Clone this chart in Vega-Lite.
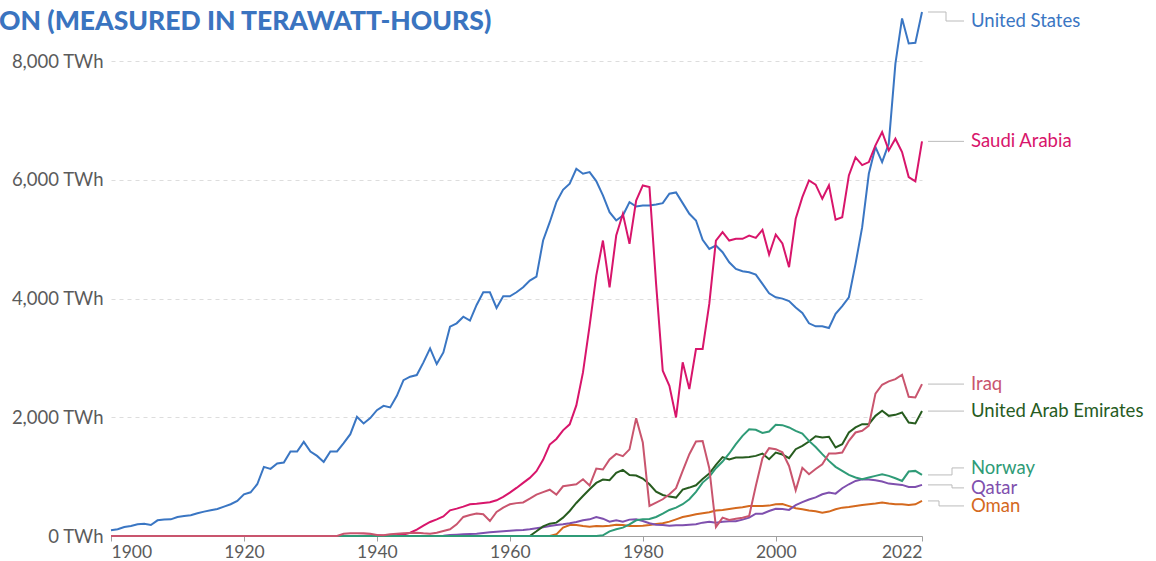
{
"$schema": "https://vega.github.io/schema/vega-lite/v6.json",
"width": 811, "height": 524,
"autosize": {"type": "none"},
"padding": {"left": 111, "top": 12, "right": 234, "bottom": 25},
"background": "white",
"config": {"view": {"stroke": null}, "font": "Lato"},
"title": {"text": "ON (MEASURED IN TERAWATT-HOURS)", "anchor": "start", "frame": "group", "dx": -112, "dy": 28, "offset": -20, "baseline": "alphabetic", "font": "Lato", "fontSize": 26.5, "fontWeight": 900, "color": "#3a74c0"},
"data": {"values": [
{"country":"United States","year":1900,"twh":96},{"country":"United States","year":1901,"twh":113},{"country":"United States","year":1902,"twh":152},{"country":"United States","year":1903,"twh":169},{"country":"United States","year":1904,"twh":197},{"country":"United States","year":1905,"twh":208},{"country":"United States","year":1906,"twh":186},{"country":"United States","year":1907,"twh":264},{"country":"United States","year":1908,"twh":276},{"country":"United States","year":1909,"twh":281},{"country":"United States","year":1910,"twh":321},{"country":"United States","year":1911,"twh":338},{"country":"United States","year":1912,"twh":349},{"country":"United States","year":1913,"twh":382},{"country":"United States","year":1914,"twh":411},{"country":"United States","year":1915,"twh":433},{"country":"United States","year":1916,"twh":456},{"country":"United States","year":1917,"twh":495},{"country":"United States","year":1918,"twh":535},{"country":"United States","year":1919,"twh":591},{"country":"United States","year":1920,"twh":703},{"country":"United States","year":1921,"twh":737},{"country":"United States","year":1922,"twh":872},{"country":"United States","year":1923,"twh":1165},{"country":"United States","year":1924,"twh":1131},{"country":"United States","year":1925,"twh":1221},{"country":"United States","year":1926,"twh":1238},{"country":"United States","year":1927,"twh":1424},{"country":"United States","year":1928,"twh":1424},{"country":"United States","year":1929,"twh":1587},{"country":"United States","year":1930,"twh":1424},{"country":"United States","year":1931,"twh":1350},{"country":"United States","year":1932,"twh":1249},{"country":"United States","year":1933,"twh":1424},{"country":"United States","year":1934,"twh":1424},{"country":"United States","year":1935,"twh":1564},{"country":"United States","year":1936,"twh":1716},{"country":"United States","year":1937,"twh":2008},{"country":"United States","year":1938,"twh":1896},{"country":"United States","year":1939,"twh":1986},{"country":"United States","year":1940,"twh":2121},{"country":"United States","year":1941,"twh":2194},{"country":"United States","year":1942,"twh":2166},{"country":"United States","year":1943,"twh":2363},{"country":"United States","year":1944,"twh":2627},{"country":"United States","year":1945,"twh":2684},{"country":"United States","year":1946,"twh":2712},{"country":"United States","year":1947,"twh":2926},{"country":"United States","year":1948,"twh":3162},{"country":"United States","year":1949,"twh":2897},{"country":"United States","year":1950,"twh":3094},{"country":"United States","year":1951,"twh":3528},{"country":"United States","year":1952,"twh":3584},{"country":"United States","year":1953,"twh":3696},{"country":"United States","year":1954,"twh":3629},{"country":"United States","year":1955,"twh":3893},{"country":"United States","year":1956,"twh":4107},{"country":"United States","year":1957,"twh":4107},{"country":"United States","year":1958,"twh":3843},{"country":"United States","year":1959,"twh":4039},{"country":"United States","year":1960,"twh":4039},{"country":"United States","year":1961,"twh":4107},{"country":"United States","year":1962,"twh":4191},{"country":"United States","year":1963,"twh":4304},{"country":"United States","year":1964,"twh":4371},{"country":"United States","year":1965,"twh":4979},{"country":"United States","year":1966,"twh":5288},{"country":"United States","year":1967,"twh":5626},{"country":"United States","year":1968,"twh":5834},{"country":"United States","year":1969,"twh":5936},{"country":"United States","year":1970,"twh":6189},{"country":"United States","year":1971,"twh":6104},{"country":"United States","year":1972,"twh":6132},{"country":"United States","year":1973,"twh":5981},{"country":"United States","year":1974,"twh":5739},{"country":"United States","year":1975,"twh":5457},{"country":"United States","year":1976,"twh":5317},{"country":"United States","year":1977,"twh":5401},{"country":"United States","year":1978,"twh":5626},{"country":"United States","year":1979,"twh":5553},{"country":"United States","year":1980,"twh":5570},{"country":"United States","year":1981,"twh":5570},{"country":"United States","year":1982,"twh":5587},{"country":"United States","year":1983,"twh":5609},{"country":"United States","year":1984,"twh":5767},{"country":"United States","year":1985,"twh":5789},{"country":"United States","year":1986,"twh":5609},{"country":"United States","year":1987,"twh":5429},{"country":"United States","year":1988,"twh":5317},{"country":"United States","year":1989,"twh":4990},{"country":"United States","year":1990,"twh":4838},{"country":"United States","year":1991,"twh":4895},{"country":"United States","year":1992,"twh":4782},{"country":"United States","year":1993,"twh":4613},{"country":"United States","year":1994,"twh":4501},{"country":"United States","year":1995,"twh":4461},{"country":"United States","year":1996,"twh":4445},{"country":"United States","year":1997,"twh":4405},{"country":"United States","year":1998,"twh":4248},{"country":"United States","year":1999,"twh":4090},{"country":"United States","year":2000,"twh":4023},{"country":"United States","year":2001,"twh":4000},{"country":"United States","year":2002,"twh":3960},{"country":"United States","year":2003,"twh":3850},{"country":"United States","year":2004,"twh":3760},{"country":"United States","year":2005,"twh":3584},{"country":"United States","year":2006,"twh":3533},{"country":"United States","year":2007,"twh":3536},{"country":"United States","year":2008,"twh":3505},{"country":"United States","year":2009,"twh":3745},{"country":"United States","year":2010,"twh":3875},{"country":"United States","year":2011,"twh":4023},{"country":"United States","year":2012,"twh":4585},{"country":"United States","year":2013,"twh":5204},{"country":"United States","year":2014,"twh":6104},{"country":"United States","year":2015,"twh":6554},{"country":"United States","year":2016,"twh":6301},{"country":"United States","year":2017,"twh":6611},{"country":"United States","year":2018,"twh":7961},{"country":"United States","year":2019,"twh":8721},{"country":"United States","year":2020,"twh":8299},{"country":"United States","year":2021,"twh":8310},{"country":"United States","year":2022,"twh":8830},
{"country":"Saudi Arabia","year":1900,"twh":0},{"country":"Saudi Arabia","year":1937,"twh":0},{"country":"Saudi Arabia","year":1938,"twh":5},{"country":"Saudi Arabia","year":1939,"twh":10},{"country":"Saudi Arabia","year":1940,"twh":12},{"country":"Saudi Arabia","year":1941,"twh":10},{"country":"Saudi Arabia","year":1942,"twh":10},{"country":"Saudi Arabia","year":1943,"twh":15},{"country":"Saudi Arabia","year":1944,"twh":25},{"country":"Saudi Arabia","year":1945,"twh":55},{"country":"Saudi Arabia","year":1946,"twh":107},{"country":"Saudi Arabia","year":1947,"twh":174},{"country":"Saudi Arabia","year":1948,"twh":236},{"country":"Saudi Arabia","year":1949,"twh":281},{"country":"Saudi Arabia","year":1950,"twh":330},{"country":"Saudi Arabia","year":1951,"twh":433},{"country":"Saudi Arabia","year":1952,"twh":461},{"country":"Saudi Arabia","year":1953,"twh":495},{"country":"Saudi Arabia","year":1954,"twh":535},{"country":"Saudi Arabia","year":1955,"twh":543},{"country":"Saudi Arabia","year":1956,"twh":557},{"country":"Saudi Arabia","year":1957,"twh":568},{"country":"Saudi Arabia","year":1958,"twh":602},{"country":"Saudi Arabia","year":1959,"twh":660},{"country":"Saudi Arabia","year":1960,"twh":730},{"country":"Saudi Arabia","year":1961,"twh":810},{"country":"Saudi Arabia","year":1962,"twh":895},{"country":"Saudi Arabia","year":1963,"twh":979},{"country":"Saudi Arabia","year":1964,"twh":1092},{"country":"Saudi Arabia","year":1965,"twh":1283},{"country":"Saudi Arabia","year":1966,"twh":1540},{"country":"Saudi Arabia","year":1967,"twh":1635},{"country":"Saudi Arabia","year":1968,"twh":1780},{"country":"Saudi Arabia","year":1969,"twh":1882},{"country":"Saudi Arabia","year":1970,"twh":2200},{"country":"Saudi Arabia","year":1971,"twh":2757},{"country":"Saudi Arabia","year":1972,"twh":3544},{"country":"Saudi Arabia","year":1973,"twh":4388},{"country":"Saudi Arabia","year":1974,"twh":4979},{"country":"Saudi Arabia","year":1975,"twh":4191},{"country":"Saudi Arabia","year":1976,"twh":5063},{"country":"Saudi Arabia","year":1977,"twh":5429},{"country":"Saudi Arabia","year":1978,"twh":4923},{"country":"Saudi Arabia","year":1979,"twh":5654},{"country":"Saudi Arabia","year":1980,"twh":5907},{"country":"Saudi Arabia","year":1981,"twh":5879},{"country":"Saudi Arabia","year":1982,"twh":4248},{"country":"Saudi Arabia","year":1983,"twh":2785},{"country":"Saudi Arabia","year":1984,"twh":2532},{"country":"Saudi Arabia","year":1985,"twh":1997},{"country":"Saudi Arabia","year":1986,"twh":2926},{"country":"Saudi Arabia","year":1987,"twh":2475},{"country":"Saudi Arabia","year":1988,"twh":3151},{"country":"Saudi Arabia","year":1989,"twh":3151},{"country":"Saudi Arabia","year":1990,"twh":3910},{"country":"Saudi Arabia","year":1991,"twh":4979},{"country":"Saudi Arabia","year":1992,"twh":5119},{"country":"Saudi Arabia","year":1993,"twh":4979},{"country":"Saudi Arabia","year":1994,"twh":5007},{"country":"Saudi Arabia","year":1995,"twh":5007},{"country":"Saudi Arabia","year":1996,"twh":5063},{"country":"Saudi Arabia","year":1997,"twh":5024},{"country":"Saudi Arabia","year":1998,"twh":5159},{"country":"Saudi Arabia","year":1999,"twh":4743},{"country":"Saudi Arabia","year":2000,"twh":5080},{"country":"Saudi Arabia","year":2001,"twh":4930},{"country":"Saudi Arabia","year":2002,"twh":4529},{"country":"Saudi Arabia","year":2003,"twh":5345},{"country":"Saudi Arabia","year":2004,"twh":5710},{"country":"Saudi Arabia","year":2005,"twh":5992},{"country":"Saudi Arabia","year":2006,"twh":5920},{"country":"Saudi Arabia","year":2007,"twh":5682},{"country":"Saudi Arabia","year":2008,"twh":5910},{"country":"Saudi Arabia","year":2009,"twh":5330},{"country":"Saudi Arabia","year":2010,"twh":5373},{"country":"Saudi Arabia","year":2011,"twh":6076},{"country":"Saudi Arabia","year":2012,"twh":6380},{"country":"Saudi Arabia","year":2013,"twh":6250},{"country":"Saudi Arabia","year":2014,"twh":6301},{"country":"Saudi Arabia","year":2015,"twh":6582},{"country":"Saudi Arabia","year":2016,"twh":6808},{"country":"Saudi Arabia","year":2017,"twh":6498},{"country":"Saudi Arabia","year":2018,"twh":6695},{"country":"Saudi Arabia","year":2019,"twh":6470},{"country":"Saudi Arabia","year":2020,"twh":6048},{"country":"Saudi Arabia","year":2021,"twh":5975},{"country":"Saudi Arabia","year":2022,"twh":6650},
{"country":"Oman","year":1900,"twh":0},{"country":"Oman","year":1966,"twh":0},{"country":"Oman","year":1967,"twh":28},{"country":"Oman","year":1968,"twh":141},{"country":"Oman","year":1969,"twh":186},{"country":"Oman","year":1970,"twh":186},{"country":"Oman","year":1971,"twh":169},{"country":"Oman","year":1972,"twh":158},{"country":"Oman","year":1973,"twh":169},{"country":"Oman","year":1974,"twh":163},{"country":"Oman","year":1975,"twh":174},{"country":"Oman","year":1976,"twh":191},{"country":"Oman","year":1977,"twh":186},{"country":"Oman","year":1978,"twh":169},{"country":"Oman","year":1979,"twh":169},{"country":"Oman","year":1980,"twh":174},{"country":"Oman","year":1981,"twh":186},{"country":"Oman","year":1982,"twh":203},{"country":"Oman","year":1983,"twh":214},{"country":"Oman","year":1984,"twh":242},{"country":"Oman","year":1985,"twh":281},{"country":"Oman","year":1986,"twh":321},{"country":"Oman","year":1987,"twh":343},{"country":"Oman","year":1988,"twh":366},{"country":"Oman","year":1989,"twh":383},{"country":"Oman","year":1990,"twh":400},{"country":"Oman","year":1991,"twh":428},{"country":"Oman","year":1992,"twh":439},{"country":"Oman","year":1993,"twh":456},{"country":"Oman","year":1994,"twh":473},{"country":"Oman","year":1995,"twh":484},{"country":"Oman","year":1996,"twh":506},{"country":"Oman","year":1997,"twh":506},{"country":"Oman","year":1998,"twh":506},{"country":"Oman","year":1999,"twh":512},{"country":"Oman","year":2000,"twh":535},{"country":"Oman","year":2001,"twh":540},{"country":"Oman","year":2002,"twh":504},{"country":"Oman","year":2003,"twh":467},{"country":"Oman","year":2004,"twh":450},{"country":"Oman","year":2005,"twh":428},{"country":"Oman","year":2006,"twh":416},{"country":"Oman","year":2007,"twh":394},{"country":"Oman","year":2008,"twh":411},{"country":"Oman","year":2009,"twh":450},{"country":"Oman","year":2010,"twh":478},{"country":"Oman","year":2011,"twh":490},{"country":"Oman","year":2012,"twh":506},{"country":"Oman","year":2013,"twh":523},{"country":"Oman","year":2014,"twh":534},{"country":"Oman","year":2015,"twh":546},{"country":"Oman","year":2016,"twh":563},{"country":"Oman","year":2017,"twh":546},{"country":"Oman","year":2018,"twh":534},{"country":"Oman","year":2019,"twh":534},{"country":"Oman","year":2020,"twh":523},{"country":"Oman","year":2021,"twh":534},{"country":"Oman","year":2022,"twh":591},
{"country":"Qatar","year":1900,"twh":0},{"country":"Qatar","year":1949,"twh":0},{"country":"Qatar","year":1950,"twh":6},{"country":"Qatar","year":1951,"twh":17},{"country":"Qatar","year":1952,"twh":22},{"country":"Qatar","year":1953,"twh":28},{"country":"Qatar","year":1954,"twh":34},{"country":"Qatar","year":1955,"twh":39},{"country":"Qatar","year":1956,"twh":51},{"country":"Qatar","year":1957,"twh":62},{"country":"Qatar","year":1958,"twh":73},{"country":"Qatar","year":1959,"twh":80},{"country":"Qatar","year":1960,"twh":87},{"country":"Qatar","year":1961,"twh":96},{"country":"Qatar","year":1962,"twh":101},{"country":"Qatar","year":1963,"twh":113},{"country":"Qatar","year":1964,"twh":130},{"country":"Qatar","year":1965,"twh":146},{"country":"Qatar","year":1966,"twh":169},{"country":"Qatar","year":1967,"twh":186},{"country":"Qatar","year":1968,"twh":197},{"country":"Qatar","year":1969,"twh":214},{"country":"Qatar","year":1970,"twh":236},{"country":"Qatar","year":1971,"twh":264},{"country":"Qatar","year":1972,"twh":281},{"country":"Qatar","year":1973,"twh":321},{"country":"Qatar","year":1974,"twh":292},{"country":"Qatar","year":1975,"twh":242},{"country":"Qatar","year":1976,"twh":264},{"country":"Qatar","year":1977,"twh":242},{"country":"Qatar","year":1978,"twh":276},{"country":"Qatar","year":1979,"twh":281},{"country":"Qatar","year":1980,"twh":253},{"country":"Qatar","year":1981,"twh":214},{"country":"Qatar","year":1982,"twh":191},{"country":"Qatar","year":1983,"twh":186},{"country":"Qatar","year":1984,"twh":174},{"country":"Qatar","year":1985,"twh":180},{"country":"Qatar","year":1986,"twh":180},{"country":"Qatar","year":1987,"twh":191},{"country":"Qatar","year":1988,"twh":197},{"country":"Qatar","year":1989,"twh":225},{"country":"Qatar","year":1990,"twh":242},{"country":"Qatar","year":1991,"twh":225},{"country":"Qatar","year":1992,"twh":242},{"country":"Qatar","year":1993,"twh":248},{"country":"Qatar","year":1994,"twh":248},{"country":"Qatar","year":1995,"twh":276},{"country":"Qatar","year":1996,"twh":309},{"country":"Qatar","year":1997,"twh":377},{"country":"Qatar","year":1998,"twh":377},{"country":"Qatar","year":1999,"twh":422},{"country":"Qatar","year":2000,"twh":460},{"country":"Qatar","year":2001,"twh":453},{"country":"Qatar","year":2002,"twh":440},{"country":"Qatar","year":2003,"twh":520},{"country":"Qatar","year":2004,"twh":570},{"country":"Qatar","year":2005,"twh":615},{"country":"Qatar","year":2006,"twh":650},{"country":"Qatar","year":2007,"twh":703},{"country":"Qatar","year":2008,"twh":731},{"country":"Qatar","year":2009,"twh":714},{"country":"Qatar","year":2010,"twh":805},{"country":"Qatar","year":2011,"twh":872},{"country":"Qatar","year":2012,"twh":928},{"country":"Qatar","year":2013,"twh":956},{"country":"Qatar","year":2014,"twh":951},{"country":"Qatar","year":2015,"twh":939},{"country":"Qatar","year":2016,"twh":917},{"country":"Qatar","year":2017,"twh":883},{"country":"Qatar","year":2018,"twh":872},{"country":"Qatar","year":2019,"twh":861},{"country":"Qatar","year":2020,"twh":827},{"country":"Qatar","year":2021,"twh":827},{"country":"Qatar","year":2022,"twh":861},
{"country":"United Arab Emirates","year":1900,"twh":0},{"country":"United Arab Emirates","year":1963,"twh":0},{"country":"United Arab Emirates","year":1964,"twh":79},{"country":"United Arab Emirates","year":1965,"twh":163},{"country":"United Arab Emirates","year":1966,"twh":208},{"country":"United Arab Emirates","year":1967,"twh":225},{"country":"United Arab Emirates","year":1968,"twh":309},{"country":"United Arab Emirates","year":1969,"twh":422},{"country":"United Arab Emirates","year":1970,"twh":557},{"country":"United Arab Emirates","year":1971,"twh":675},{"country":"United Arab Emirates","year":1972,"twh":788},{"country":"United Arab Emirates","year":1973,"twh":894},{"country":"United Arab Emirates","year":1974,"twh":951},{"country":"United Arab Emirates","year":1975,"twh":939},{"country":"United Arab Emirates","year":1976,"twh":1063},{"country":"United Arab Emirates","year":1977,"twh":1114},{"country":"United Arab Emirates","year":1978,"twh":1029},{"country":"United Arab Emirates","year":1979,"twh":1020},{"country":"United Arab Emirates","year":1980,"twh":968},{"country":"United Arab Emirates","year":1981,"twh":872},{"country":"United Arab Emirates","year":1982,"twh":748},{"country":"United Arab Emirates","year":1983,"twh":692},{"country":"United Arab Emirates","year":1984,"twh":664},{"country":"United Arab Emirates","year":1985,"twh":647},{"country":"United Arab Emirates","year":1986,"twh":782},{"country":"United Arab Emirates","year":1987,"twh":816},{"country":"United Arab Emirates","year":1988,"twh":855},{"country":"United Arab Emirates","year":1989,"twh":962},{"country":"United Arab Emirates","year":1990,"twh":1052},{"country":"United Arab Emirates","year":1991,"twh":1198},{"country":"United Arab Emirates","year":1992,"twh":1330},{"country":"United Arab Emirates","year":1993,"twh":1290},{"country":"United Arab Emirates","year":1994,"twh":1322},{"country":"United Arab Emirates","year":1995,"twh":1322},{"country":"United Arab Emirates","year":1996,"twh":1333},{"country":"United Arab Emirates","year":1997,"twh":1350},{"country":"United Arab Emirates","year":1998,"twh":1390},{"country":"United Arab Emirates","year":1999,"twh":1294},{"country":"United Arab Emirates","year":2000,"twh":1406},{"country":"United Arab Emirates","year":2001,"twh":1373},{"country":"United Arab Emirates","year":2002,"twh":1311},{"country":"United Arab Emirates","year":2003,"twh":1463},{"country":"United Arab Emirates","year":2004,"twh":1519},{"country":"United Arab Emirates","year":2005,"twh":1592},{"country":"United Arab Emirates","year":2006,"twh":1680},{"country":"United Arab Emirates","year":2007,"twh":1660},{"country":"United Arab Emirates","year":2008,"twh":1671},{"country":"United Arab Emirates","year":2009,"twh":1491},{"country":"United Arab Emirates","year":2010,"twh":1547},{"country":"United Arab Emirates","year":2011,"twh":1744},{"country":"United Arab Emirates","year":2012,"twh":1829},{"country":"United Arab Emirates","year":2013,"twh":1885},{"country":"United Arab Emirates","year":2014,"twh":1885},{"country":"United Arab Emirates","year":2015,"twh":2025},{"country":"United Arab Emirates","year":2016,"twh":2110},{"country":"United Arab Emirates","year":2017,"twh":2025},{"country":"United Arab Emirates","year":2018,"twh":2042},{"country":"United Arab Emirates","year":2019,"twh":2082},{"country":"United Arab Emirates","year":2020,"twh":1913},{"country":"United Arab Emirates","year":2021,"twh":1896},{"country":"United Arab Emirates","year":2022,"twh":2105},
{"country":"Norway","year":1900,"twh":0},{"country":"Norway","year":1973,"twh":0},{"country":"Norway","year":1974,"twh":11},{"country":"Norway","year":1975,"twh":79},{"country":"Norway","year":1976,"twh":113},{"country":"Norway","year":1977,"twh":141},{"country":"Norway","year":1978,"twh":197},{"country":"Norway","year":1979,"twh":265},{"country":"Norway","year":1980,"twh":281},{"country":"Norway","year":1981,"twh":287},{"country":"Norway","year":1982,"twh":321},{"country":"Norway","year":1983,"twh":377},{"country":"Norway","year":1984,"twh":439},{"country":"Norway","year":1985,"twh":478},{"country":"Norway","year":1986,"twh":535},{"country":"Norway","year":1987,"twh":619},{"country":"Norway","year":1988,"twh":743},{"country":"Norway","year":1989,"twh":900},{"country":"Norway","year":1990,"twh":996},{"country":"Norway","year":1991,"twh":1142},{"country":"Norway","year":1992,"twh":1255},{"country":"Norway","year":1993,"twh":1390},{"country":"Norway","year":1994,"twh":1547},{"country":"Norway","year":1995,"twh":1688},{"country":"Norway","year":1996,"twh":1800},{"country":"Norway","year":1997,"twh":1789},{"country":"Norway","year":1998,"twh":1738},{"country":"Norway","year":1999,"twh":1761},{"country":"Norway","year":2000,"twh":1873},{"country":"Norway","year":2001,"twh":1868},{"country":"Norway","year":2002,"twh":1829},{"country":"Norway","year":2003,"twh":1772},{"country":"Norway","year":2004,"twh":1727},{"country":"Norway","year":2005,"twh":1603},{"country":"Norway","year":2006,"twh":1500},{"country":"Norway","year":2007,"twh":1379},{"country":"Norway","year":2008,"twh":1266},{"country":"Norway","year":2009,"twh":1165},{"country":"Norway","year":2010,"twh":1097},{"country":"Norway","year":2011,"twh":1029},{"country":"Norway","year":2012,"twh":985},{"country":"Norway","year":2013,"twh":956},{"country":"Norway","year":2014,"twh":985},{"country":"Norway","year":2015,"twh":1013},{"country":"Norway","year":2016,"twh":1041},{"country":"Norway","year":2017,"twh":1013},{"country":"Norway","year":2018,"twh":973},{"country":"Norway","year":2019,"twh":928},{"country":"Norway","year":2020,"twh":1086},{"country":"Norway","year":2021,"twh":1097},{"country":"Norway","year":2022,"twh":1029},
{"country":"Iraq","year":1900,"twh":0},{"country":"Iraq","year":1934,"twh":0},{"country":"Iraq","year":1935,"twh":39},{"country":"Iraq","year":1936,"twh":45},{"country":"Iraq","year":1937,"twh":45},{"country":"Iraq","year":1938,"twh":45},{"country":"Iraq","year":1939,"twh":39},{"country":"Iraq","year":1940,"twh":17},{"country":"Iraq","year":1941,"twh":11},{"country":"Iraq","year":1942,"twh":28},{"country":"Iraq","year":1943,"twh":39},{"country":"Iraq","year":1944,"twh":45},{"country":"Iraq","year":1945,"twh":50},{"country":"Iraq","year":1946,"twh":56},{"country":"Iraq","year":1947,"twh":45},{"country":"Iraq","year":1948,"twh":39},{"country":"Iraq","year":1949,"twh":56},{"country":"Iraq","year":1950,"twh":84},{"country":"Iraq","year":1951,"twh":113},{"country":"Iraq","year":1952,"twh":197},{"country":"Iraq","year":1953,"twh":321},{"country":"Iraq","year":1954,"twh":354},{"country":"Iraq","year":1955,"twh":377},{"country":"Iraq","year":1956,"twh":366},{"country":"Iraq","year":1957,"twh":253},{"country":"Iraq","year":1958,"twh":405},{"country":"Iraq","year":1959,"twh":478},{"country":"Iraq","year":1960,"twh":534},{"country":"Iraq","year":1961,"twh":554},{"country":"Iraq","year":1962,"twh":566},{"country":"Iraq","year":1963,"twh":630},{"country":"Iraq","year":1964,"twh":698},{"country":"Iraq","year":1965,"twh":740},{"country":"Iraq","year":1966,"twh":780},{"country":"Iraq","year":1967,"twh":698},{"country":"Iraq","year":1968,"twh":838},{"country":"Iraq","year":1969,"twh":855},{"country":"Iraq","year":1970,"twh":872},{"country":"Iraq","year":1971,"twh":956},{"country":"Iraq","year":1972,"twh":850},{"country":"Iraq","year":1973,"twh":1137},{"country":"Iraq","year":1974,"twh":1120},{"country":"Iraq","year":1975,"twh":1289},{"country":"Iraq","year":1976,"twh":1384},{"country":"Iraq","year":1977,"twh":1345},{"country":"Iraq","year":1978,"twh":1460},{"country":"Iraq","year":1979,"twh":1986},{"country":"Iraq","year":1980,"twh":1575},{"country":"Iraq","year":1981,"twh":506},{"country":"Iraq","year":1982,"twh":562},{"country":"Iraq","year":1983,"twh":619},{"country":"Iraq","year":1984,"twh":703},{"country":"Iraq","year":1985,"twh":805},{"country":"Iraq","year":1986,"twh":1097},{"country":"Iraq","year":1987,"twh":1379},{"country":"Iraq","year":1988,"twh":1592},{"country":"Iraq","year":1989,"twh":1600},{"country":"Iraq","year":1990,"twh":1142},{"country":"Iraq","year":1991,"twh":152},{"country":"Iraq","year":1992,"twh":309},{"country":"Iraq","year":1993,"twh":270},{"country":"Iraq","year":1994,"twh":292},{"country":"Iraq","year":1995,"twh":309},{"country":"Iraq","year":1996,"twh":338},{"country":"Iraq","year":1997,"twh":844},{"country":"Iraq","year":1998,"twh":1311},{"country":"Iraq","year":1999,"twh":1480},{"country":"Iraq","year":2000,"twh":1463},{"country":"Iraq","year":2001,"twh":1410},{"country":"Iraq","year":2002,"twh":1180},{"country":"Iraq","year":2003,"twh":771},{"country":"Iraq","year":2004,"twh":1148},{"country":"Iraq","year":2005,"twh":1041},{"country":"Iraq","year":2006,"twh":1130},{"country":"Iraq","year":2007,"twh":1210},{"country":"Iraq","year":2008,"twh":1390},{"country":"Iraq","year":2009,"twh":1390},{"country":"Iraq","year":2010,"twh":1406},{"country":"Iraq","year":2011,"twh":1603},{"country":"Iraq","year":2012,"twh":1744},{"country":"Iraq","year":2013,"twh":1772},{"country":"Iraq","year":2014,"twh":1857},{"country":"Iraq","year":2015,"twh":2400},{"country":"Iraq","year":2016,"twh":2549},{"country":"Iraq","year":2017,"twh":2605},{"country":"Iraq","year":2018,"twh":2644},{"country":"Iraq","year":2019,"twh":2717},{"country":"Iraq","year":2020,"twh":2346},{"country":"Iraq","year":2021,"twh":2335},{"country":"Iraq","year":2022,"twh":2560}
]},
"encoding": {
  "x": {"field": "year", "type": "quantitative", "scale": {"domain": [1900, 2022], "nice": false, "zero": false},
        "axis": {"values": [1900, 1920, 1940, 1960, 1980, 2000, 2022], "format": "d", "labelFlush": true, "title": null, "grid": false, "domainColor": "#a0a0a0", "tickColor": "#a0a0a0", "tickSize": 5, "labelFontSize": 17.5, "labelFont": "Lato", "labelColor": "#5b5b5b", "labelPadding": 2}},
  "y": {"field": "twh", "type": "quantitative", "scale": {"domain": [0, 8830], "nice": false},
        "axis": {"values": [0, 2000, 4000, 6000, 8000], "labelExpr": "format(datum.value, ',') + ' TWh'", "title": null, "domain": false, "ticks": false, "grid": true, "gridDash": [4, 4], "gridColor": "#dddddd", "labelFontSize": 18.5, "labelFont": "Lato", "labelColor": "#5b5b5b", "labelPadding": 8}}
},
"layer": [
  {"mark": {"type": "line", "strokeWidth": 2},
   "encoding": {"color": {"field": "country", "type": "nominal", "legend": null,
     "scale": {"domain": ["United States", "Saudi Arabia", "Oman", "Qatar", "United Arab Emirates", "Norway", "Iraq"],
               "range": ["#3a76c3", "#d8156b", "#d4691e", "#7f50ae", "#275c1f", "#2f9b77", "#c9556e"]}}}},
  {"transform": [{"filter": "datum.year == 2022 && (datum.country == 'Saudi Arabia' || datum.country == 'Iraq' || datum.country == 'United Arab Emirates')"}],
   "mark": {"type": "rule", "color": "#bbbbbb", "strokeWidth": 1, "xOffset": 6, "x2Offset": 42},
   "encoding": {"x2": {"field": "year"}}},
  {"transform": [{"filter": "datum.year == 2022 && datum.country == 'United States'"}],
   "layer": [
     {"mark": {"type": "rule", "color": "#bbbbbb", "strokeWidth": 1, "xOffset": 6, "x2Offset": 24}, "encoding": {"x2": {"field": "year"}}},
     {"mark": {"type": "rule", "color": "#bbbbbb", "strokeWidth": 1, "xOffset": 24, "y2Offset": 9}, "encoding": {"y2": {"field": "twh"}}},
     {"mark": {"type": "rule", "color": "#bbbbbb", "strokeWidth": 1, "xOffset": 24, "x2Offset": 42, "yOffset": 9}, "encoding": {"x2": {"field": "year"}}},
     {"mark": {"type": "text", "align": "left", "baseline": "middle", "dx": 49, "dy": 9, "fontSize": 18.5, "font": "Lato"}, "encoding": {"text": {"field": "country"}, "color": {"field": "country", "type": "nominal", "legend": null}}}
   ]},
  {"transform": [{"filter": "datum.year == 2022 && datum.country == 'Norway'"}],
   "layer": [
     {"mark": {"type": "rule", "color": "#bbbbbb", "strokeWidth": 1, "xOffset": 6, "x2Offset": 30}, "encoding": {"x2": {"field": "year"}}},
     {"mark": {"type": "rule", "color": "#bbbbbb", "strokeWidth": 1, "xOffset": 30, "y2Offset": -7}, "encoding": {"y2": {"field": "twh"}}},
     {"mark": {"type": "rule", "color": "#bbbbbb", "strokeWidth": 1, "xOffset": 30, "x2Offset": 42, "yOffset": -7}, "encoding": {"x2": {"field": "year"}}},
     {"mark": {"type": "text", "align": "left", "baseline": "middle", "dx": 49, "dy": -7, "fontSize": 18.5, "font": "Lato"}, "encoding": {"text": {"field": "country"}, "color": {"field": "country", "type": "nominal", "legend": null}}}
   ]},
  {"transform": [{"filter": "datum.year == 2022 && datum.country == 'Qatar'"}],
   "layer": [
     {"mark": {"type": "rule", "color": "#bbbbbb", "strokeWidth": 1, "xOffset": 6, "x2Offset": 30}, "encoding": {"x2": {"field": "year"}}},
     {"mark": {"type": "rule", "color": "#bbbbbb", "strokeWidth": 1, "xOffset": 30, "y2Offset": 3}, "encoding": {"y2": {"field": "twh"}}},
     {"mark": {"type": "rule", "color": "#bbbbbb", "strokeWidth": 1, "xOffset": 30, "x2Offset": 42, "yOffset": 3}, "encoding": {"x2": {"field": "year"}}},
     {"mark": {"type": "text", "align": "left", "baseline": "middle", "dx": 49, "dy": 3, "fontSize": 18.5, "font": "Lato"}, "encoding": {"text": {"field": "country"}, "color": {"field": "country", "type": "nominal", "legend": null}}}
   ]},
  {"transform": [{"filter": "datum.year == 2022 && datum.country == 'Oman'"}],
   "layer": [
     {"mark": {"type": "rule", "color": "#bbbbbb", "strokeWidth": 1, "xOffset": 6, "x2Offset": 17}, "encoding": {"x2": {"field": "year"}}},
     {"mark": {"type": "rule", "color": "#bbbbbb", "strokeWidth": 1, "xOffset": 17, "y2Offset": 5}, "encoding": {"y2": {"field": "twh"}}},
     {"mark": {"type": "rule", "color": "#bbbbbb", "strokeWidth": 1, "xOffset": 17, "x2Offset": 42, "yOffset": 5}, "encoding": {"x2": {"field": "year"}}},
     {"mark": {"type": "text", "align": "left", "baseline": "middle", "dx": 49, "dy": 5, "fontSize": 18.5, "font": "Lato"}, "encoding": {"text": {"field": "country"}, "color": {"field": "country", "type": "nominal", "legend": null}}}
   ]},
  {"transform": [{"filter": "datum.year == 2022 && (datum.country == 'Saudi Arabia' || datum.country == 'Iraq' || datum.country == 'United Arab Emirates')"}],
   "mark": {"type": "text", "align": "left", "baseline": "middle", "dx": 49, "fontSize": 18.5, "font": "Lato"},
   "encoding": {"text": {"field": "country"}, "color": {"field": "country", "type": "nominal", "legend": null}}}
]
}
